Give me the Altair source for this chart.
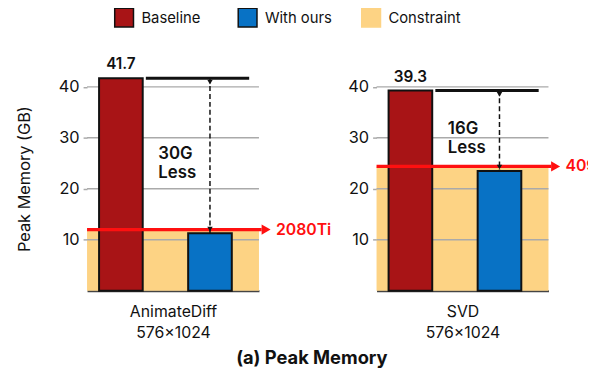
import altair as alt
import pandas as pd

# ---- data ----
models = ["AnimateDiff", "SVD"]
resolutions = ["576×1024", "576×1024"]
baseline = [41.7, 39.3]
ours = [11.3, 23.5]
constraint = [12.0, 24.4]
gpus = ["2080Ti", "4090"]
savings = ["30G", "16G"]
series = ["Baseline", "With ours", "Constraint"]
y_ticks = [10, 20, 30, 40]

# ---- styling ----
colors = ["#A81416", "#0872C5", "#FDD384"]
strokes = ["#111111", "#111111", "#FDD384"]
FONT = "Inter"
X_MIN, X_MAX = -0.38, 1.55
HALF = 0.245
Y_MAX = 44
W, H = 174, 227

color_scale = alt.Scale(domain=series, range=colors)
stroke_scale = alt.Scale(domain=series, range=strokes)
legend = alt.Legend(orient="none", direction="horizontal", legendX=27, legendY=-60,
                    title=None, symbolType="square", symbolSize=361,
                    symbolStrokeWidth=1.5, labelFont=FONT, labelFontSize=15,
                    labelColor="#111", labelOffset=7, columnPadding=21,
                    gridAlign="all")

xs = alt.Scale(domain=[X_MIN, X_MAX], nice=False, zero=False)
ys = alt.Scale(domain=[0, Y_MAX], nice=False)


def panel(i, first):
    bars = pd.DataFrame({"series": series[:2], "idx": [0, 1],
                         "value": [baseline[i], ours[i]]})
    info = pd.DataFrame({"series": ["Constraint"], "lim": [constraint[i]],
                         "gpu": [gpus[i]], "base": [baseline[i]], "ours": [ours[i]],
                         "save": [savings[i] + "\nLess"]})
    grid = pd.DataFrame({"v": y_ticks})

    yaxis = alt.Axis(values=y_ticks, grid=False, domain=False, tickColor="#AAAAAA",
                     tickSize=4, tickWidth=1.5, labelFont=FONT, labelFontSize=16.5,
                     labelColor="#111", labelPadding=4,
                     title="Peak Memory (GB)" if first else None,
                     titleFont=FONT, titleFontSize=16.5, titleFontWeight="normal",
                     titleColor="#111", titlePadding=26)
    xaxis = alt.Axis(labels=False, ticks=False, grid=False, domain=True,
                     domainColor="#444444", domainWidth=2,
                     title=[models[i], resolutions[i]], titleFont=FONT,
                     titleFontSize=16, titleFontWeight="normal", titleColor="#111",
                     titlePadding=13, titleLineHeight=21)

    geo = dict(xa=f"{X_MIN}", xb=f"{X_MAX}", xarr=f"{X_MAX + 0.03}",
               xhead=f"{X_MAX + 0.08}", xlab=f"{X_MAX + 0.19}",
               xl0=f"{HALF + 0.035}", xl1="1.44", xo="1", xb0="0", xs="0.42",
               zero="0", mid="(datum.base + datum.ours) / 2")

    base_info = alt.Chart(info).transform_calculate(**geo)

    band = base_info.mark_rect(strokeWidth=0).encode(
        x=alt.X("xa:Q", scale=xs, axis=xaxis),
        x2="xb:Q",
        y=alt.Y("zero:Q", scale=ys, axis=yaxis),
        y2="lim:Q",
        color=alt.Color("series:N", scale=color_scale, legend=legend),
        stroke=alt.Stroke("series:N", scale=stroke_scale, legend=legend),
    )
    gridl = alt.Chart(grid).transform_calculate(**geo).mark_rule(
        color="#AAAAAA", strokeWidth=1.5).encode(x="xa:Q", x2="xb:Q", y="v:Q")
    barm = alt.Chart(bars).transform_calculate(
        x0=f"datum.idx - {HALF}", x1=f"datum.idx + {HALF}", zero="0").mark_rect(
        strokeWidth=2).encode(
        x="x0:Q", x2="x1:Q", y="zero:Q", y2="value:Q",
        color=alt.Color("series:N", scale=color_scale, legend=legend),
        stroke=alt.Stroke("series:N", scale=stroke_scale, legend=legend),
    )
    redline = base_info.mark_rule(color="#FF1010", strokeWidth=3.2).encode(
        x="xa:Q", x2="xarr:Q", y="lim:Q")
    redhead = base_info.mark_point(shape="triangle-right", filled=True,
                                   size=110, color="#FF1010", opacity=1).encode(
        x="xhead:Q", y="lim:Q")
    redtext = base_info.mark_text(align="left", baseline="middle", font=FONT,
                                  fontSize=16, fontWeight=600,
                                  color="#FF1010").encode(
        x="xlab:Q", y="lim:Q", text="gpu:N")
    topline = base_info.mark_rule(color="#111", strokeWidth=3).encode(
        x="xl0:Q", x2="xl1:Q", y="base:Q")
    dash = base_info.mark_rule(color="#111", strokeWidth=1.5,
                               strokeDash=[5, 3]).encode(
        x="xo:Q", y="base:Q", y2="ours:Q")
    head_top = base_info.mark_point(shape="triangle-down", filled=True, size=30,
                                    color="#111", opacity=1, yOffset=4).encode(
        x="xo:Q", y="base:Q")
    head_bot = base_info.mark_point(shape="triangle-down", filled=True, size=30,
                                    color="#111", opacity=1, yOffset=-4).encode(
        x="xo:Q", y="ours:Q")
    vlabel = base_info.mark_text(baseline="bottom", dy=-6, font=FONT,
                                 fontSize=15.5, fontWeight=600, color="#111").encode(
        x="xb0:Q", y="base:Q", text=alt.Text("base:Q", format=".1f"))
    stext = base_info.mark_text(
        align="left", baseline="middle", dy=-2, font=FONT, fontSize=17,
        fontWeight=600, color="#111", lineBreak="\n", lineHeight=20).encode(
        x="xs:Q", y="mid:Q", text="save:N")

    return alt.layer(band, gridl, barm, redline, redhead, redtext, topline, dash,
                     head_top, head_bot, vlabel, stext).properties(width=W, height=H)


chart = alt.hconcat(panel(0, True), panel(1, False), spacing=119,
                    bounds="flush").properties(
    title=alt.TitleParams("(a) Peak Memory", orient="bottom", font=FONT,
                          fontSize=18.5, fontWeight="bold", color="#111",
                          anchor="middle", offset=9),
    padding={"left": 8, "top": -3, "right": -20, "bottom": 0},
).configure_view(strokeWidth=0)

chart.save("out.html", embed_options={"renderer": "svg", "actions": False})
